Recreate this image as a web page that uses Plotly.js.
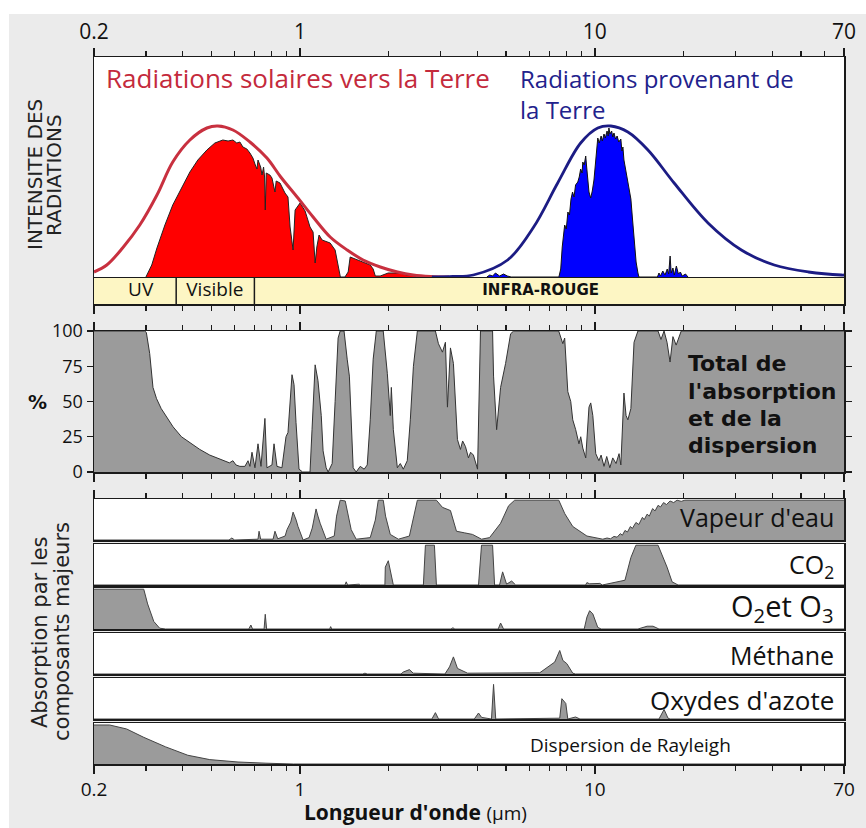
<!DOCTYPE html>
<html><head><meta charset="utf-8">
<script src="https://cdn.plot.ly/plotly-3.0.1.min.js"></script>
<style>html,body{margin:0;padding:0;background:#fff}</style>
</head><body><div id="chart" style="width:866px;height:828px"></div>
<script>
// ---------- DATA ----------
const majorTicks = [0.2, 1, 10, 70];
const majorLabels = ['0.2', '1', '10', '70'];
const minorTicks = [0.3,0.4,0.5,0.6,0.7,0.8,0.9,2,3,4,5,6,7,8,9,20,30,40,50,60];

// Panel 1 : intensity (arbitrary units)
const solarEnvLam = [0.2,0.221,0.25,0.286,0.327,0.37,0.423,0.483,0.526,0.592,0.676,0.772,0.86,0.977,1.107,1.265,1.445,1.637,1.871,2.14,2.42,2.77,3.2];
const solarEnvVal = [5,12,29,52,82,115,137,149,151,147,135,119,100,80,60,40,27,17,10,5,2,0.5,0];

const solarSurfLam = [0.300,0.304,0.314,0.327,0.348,0.37,0.397,0.423,0.45,0.483,0.514,0.547,0.57,0.592,0.61,0.625,0.64,0.66,0.676,0.692,0.703,0.714,0.72,0.735,0.743,0.752,0.758,0.762,0.768,0.79,0.803,0.815,0.822,0.83,0.855,0.889,0.91,0.925,0.947,0.962,1.0,1.04,1.081,1.107,1.125,1.14,1.16,1.188,1.265,1.315,1.346,1.37,1.42,1.456,1.479,1.6,1.73,1.77,1.80,1.87,1.95,1.99,2.19,2.3,2.42,2.5,2.77];
const solarSurfVal = [0,4,12,29,52,72,90,105,117,127,134,137,136,137,134,135,130,128,124,119,113,108,117,110,102,110,100,67,104,102,99,90,85,96,94,84,80,50,27,67,74,66,50,45,14,30,42,37,34,27,10,0,0,5,20,16,12,8,1,1,3,4,4,2,2,0,0];

const earthEnvLam = [2.8,3.3,3.87,5.06,6.2,7.48,8.95,10.23,11.33,12.94,15.14,18.57,24.2,31.4,40.6,53,68.7,70];
const earthEnvVal = [0,0.5,2,17,50,94,134,149,151,145,127,94,54,27,12,5,2,2];

const earthSurfLam = [4.3,4.4,4.5,4.6,4.75,4.9,5.05,5.2,7.55,7.66,7.75,7.9,8.0,8.1,8.2,8.3,8.4,8.5,8.6,8.75,8.85,8.95,9.05,9.1,9.2,9.31,9.38,9.46,9.55,9.68,9.8,9.93,10.05,10.15,10.23,10.35,10.5,10.6,10.74,10.85,11.0,11.1,11.16,11.25,11.4,11.5,11.61,11.75,11.9,12.05,12.25,12.35,12.45,12.55,12.7,12.94,13.1,13.25,13.4,13.58,13.8,14.0,14.11,16.3,16.5,16.7,17.0,17.3,17.6,17.8,18.0,18.15,18.4,18.6,18.9,19.2,19.5,19.8,20.3,20.7];
const earthSurfVal = [0,2,1,4,1,3,1,0,0,8,30,52,48,65,62,78,85,80,92,95,100,108,104,115,112,121,110,94,85,79,86,97,118,132,139,134,141,136,143,139,146,141,149,143,146,140,144,138,141,135,138,126,130,117,108,95,88,78,60,36,15,4,0,0,4,1,6,2,8,3,21,4,9,2,11,3,5,1,3,0];

// Spectral bands
const bandLimits = [0.38, 0.7];
const bandNames = ['UV', 'Visible', 'INFRA-ROUGE'];
const bandCentres = [0.288, 0.514, 6.55];

// Panel 2 : total absorption and scattering (%)
const totalLam = [0.2,0.297,0.301,0.309,0.317,0.326,0.338,0.352,0.371,0.396,0.423,0.457,0.494,0.534,0.576,0.592,0.606,0.625,0.65,0.666,0.676,0.687,0.703,0.72,0.737,0.76,0.772,0.803,0.816,0.835,0.868,0.896,0.91,0.939,0.954,0.969,0.992,1.02,1.081,1.098,1.125,1.15,1.18,1.197,1.226,1.245,1.285,1.315,1.346,1.368,1.41,1.445,1.47,1.514,1.55,1.6,1.65,1.69,1.73,1.77,1.814,1.915,1.977,2.023,2.04,2.072,2.138,2.188,2.24,2.31,2.366,2.424,2.5,2.878,2.947,3.041,3.112,3.162,3.237,3.313,3.419,3.5,3.56,3.64,3.726,3.79,3.873,4.0,4.093,4.498,4.533,4.643,4.789,4.979,5.179,5.303,7.54,7.786,7.9,8.095,8.283,8.414,8.61,8.831,8.954,9.099,9.311,9.55,9.683,9.842,10.07,10.32,10.5,10.74,10.97,11.24,11.5,11.8,12.08,12.25,12.45,12.55,12.76,12.94,13.25,13.58,14.0,16.38,16.76,17.17,17.57,17.99,18.4,18.87,19.63,70];
const totalPct = [100,100,99,84,60,52,45,39,32,25,21,16,12,9,6.5,8,5,4,4,8,4,14,3,20,4,38,3,5,20,4,3,25,28,69,62,35,2,0,0,30,76,65,40,15,3,0,6,50,95,100,100,80,68,3,0,4,2,5,37,80,100,100,70,40,60,30,3,6,2,8,37,75,100,100,91,85,92,46,88,77,23,16,22,18,10,14,12,2,100,100,68,30,60,77,98,100,100,91,95,57,50,37,30,20,25,17,10,46,49,40,13,8,12,4,11,3,10,6,13,5,37,56,40,37,45,92,100,100,94,100,92,78,96,90,100,100];

// Panel 3 : absorption by major components (relative)
const waterLam = [0.2,0.574,0.587,0.6,0.72,0.726,0.735,0.81,0.822,0.84,0.89,0.903,0.93,0.947,0.97,0.984,1.024,1.073,1.1,1.133,1.15,1.17,1.226,1.306,1.33,1.368,1.423,1.46,1.491,1.55,1.73,1.80,1.842,1.915,1.95,2.023,2.155,2.349,2.45,2.5,2.901,3.041,3.237,3.393,3.612,3.846,4.126,4.393,4.789,5.098,5.345,7.543,7.907,8.414,9.397,10.64,11.0,11.3,11.61,11.9,12.2,12.4,12.65,12.9,13.2,13.4,13.78,14.1,14.5,14.7,15.04,15.3,15.7,16.0,16.38,16.7,17.1,17.5,17.99,18.5,19.0,19.63,20.2,70];
const waterVal = [0,0,0.05,0,0.02,0.22,0.02,0.02,0.22,0.03,0.1,0.26,0.45,0.70,0.5,0.34,0,0.06,0.3,0.78,0.6,0.42,0.02,0.1,0.6,1.0,0.98,0.6,0.26,0.02,0.06,0.5,1.0,1.0,0.6,0.14,0.02,0.1,0.7,1.0,1.0,0.82,0.74,0.22,0.18,0.14,0.02,0.06,0.42,0.86,1.0,1.0,0.66,0.34,0.1,0.02,0.05,0.03,0.09,0.07,0.16,0.12,0.24,0.2,0.34,0.29,0.44,0.39,0.57,0.51,0.65,0.6,0.79,0.73,0.87,0.83,0.94,0.89,0.98,0.94,1.0,0.97,1.0,1.0];

const co2Lam = [0.2,1.42,1.434,1.45,1.587,1.6,1.94,1.946,1.992,2.04,2.072,2.62,2.662,2.856,2.901,4.03,4.126,4.498,4.569,4.75,4.865,5.019,5.221,5.387,9.3,9.397,9.6,10.4,10.6,12.65,13.25,13.78,16.38,17.57,18.28,19.15,70];
const co2Val = [0,0,0.08,0,0.02,0,0,0.45,0.61,0.28,0,0,1.0,1.0,0,0,1.0,1.0,0,0,0.33,0.02,0.1,0,0,0.06,0.03,0.04,0,0.12,0.69,1.0,1.0,0.45,0.08,0,0];

const ozoneLam = [0.2,0.295,0.304,0.319,0.334,0.35,0.67,0.681,0.69,0.755,0.762,0.77,1.26,1.27,1.28,3.25,3.3,3.35,4.7,4.789,4.9,9.2,9.4,9.6,9.84,10.23,10.5,14.0,15.04,15.75,16.5,70];
const ozoneVal = [1.0,1.0,0.63,0.19,0.02,0,0,0.1,0,0,0.37,0,0,0.06,0,0,0.03,0,0,0.15,0,0,0.3,0.46,0.38,0.04,0,0,0.07,0.07,0,0];

const methaneLam = [0.2,1.63,1.66,1.69,2.2,2.24,2.35,2.42,3.1,3.214,3.313,3.42,3.7,6.5,7.31,7.6,7.79,8.035,8.414,8.6,70];
const methaneVal = [0,0,0.02,0,0,0.05,0.11,0.02,0,0.18,0.43,0.14,0.02,0.03,0.3,0.59,0.34,0.26,0.02,0,0];

const nitrousLam = [0.2,2.8,2.878,2.95,3.9,4.03,4.13,4.4,4.46,4.533,4.61,7.6,7.727,7.97,8.095,8.6,8.9,16.5,16.76,17.17,17.71,18,70];
const nitrousVal = [0,0,0.16,0,0,0.15,0.04,0,0,0.87,0,0.02,0.51,0.39,0,0.05,0,0,0.1,0.24,0.02,0,0];

const rayleighLam = [0.2,0.226,0.258,0.295,0.35,0.416,0.494,0.616,0.766,0.95,70];
const rayleighVal = [0.98,0.98,0.88,0.67,0.43,0.22,0.11,0.05,0.02,0,0];

const componentNames = ["Vapeur d'eau", "CO<sub>2</sub>", "O<sub>2</sub>et O<sub>3</sub>", "Méthane", "Oxydes d'azote", "Dispersion de Rayleigh"];

// ---------- LAYOUT HELPERS ----------
const W = 866, H = 828;
const X0 = 94 / W, X1 = 844 / W;
const dom = (top, bottom) => [1 - bottom / H, 1 - top / H];
const px = v => v / W, py = v => 1 - v / H;
const xr = [Math.log10(0.2), Math.log10(70)];
const LINE = '#1a1a1a';
const SANS = 'Open Sans, DejaVu Sans, sans-serif';
const VERD = 'DejaVu Sans, Verdana, sans-serif';

function xAxis(anchor, opts) {
  return Object.assign({
    anchor: anchor, domain: [X0, X1], type: 'log', range: xr,
    showline: true, linecolor: LINE, linewidth: 1.5, mirror: true,
    showgrid: false, zeroline: false,
    tickmode: 'array', tickvals: majorTicks, ticktext: majorLabels,
    ticks: '', showticklabels: false, fixedrange: true
  }, opts || {});
}
function tickOpts(side, labels, mirror, fsize) {
  return {
    side: side, ticks: 'outside', ticklen: 8, tickwidth: 1.3, tickcolor: LINE,
    showticklabels: labels, mirror: mirror || true,
    tickfont: {family: SANS, size: fsize || 21, color: '#111'},
    minor: {tickmode: 'array', tickvals: minorTicks, ticks: 'outside', ticklen: 5, tickwidth: 1.3, tickcolor: LINE}
  };
}
function yAxis(anchor, domain, range, opts) {
  return Object.assign({
    anchor: anchor, domain: domain, range: range,
    showline: true, linecolor: LINE, linewidth: 1.5, mirror: true,
    showgrid: false, zeroline: false, ticks: '', showticklabels: false, fixedrange: true
  }, opts || {});
}

// ---------- TRACES ----------
const traces = [];
const GREY = '#9b9b9b';
traces.push({x: solarSurfLam, y: solarSurfVal, type: 'scatter', mode: 'lines', fill: 'tozeroy',
  fillcolor: '#ff0000', line: {color: '#222', width: 1}, xaxis: 'x', yaxis: 'y', hoverinfo: 'skip'});
traces.push({x: earthSurfLam, y: earthSurfVal, type: 'scatter', mode: 'lines', fill: 'tozeroy',
  fillcolor: '#0000ff', line: {color: '#111', width: 1}, xaxis: 'x', yaxis: 'y', hoverinfo: 'skip'});
traces.push({x: solarEnvLam, y: solarEnvVal, type: 'scatter', mode: 'lines',
  line: {color: '#c8303f', width: 3, shape: 'spline'}, xaxis: 'x', yaxis: 'y', hoverinfo: 'skip'});
traces.push({x: earthEnvLam, y: earthEnvVal, type: 'scatter', mode: 'lines',
  line: {color: '#1c1c84', width: 2.8, shape: 'spline'}, xaxis: 'x', yaxis: 'y', hoverinfo: 'skip'});

// band
traces.push({x: [0.2, 70, 70, 0.2, 0.2], y: [0, 0, 1, 1, 0], type: 'scatter', mode: 'lines', fill: 'toself',
  fillcolor: '#fdf6c4', line: {width: 0}, xaxis: 'x2', yaxis: 'y2', hoverinfo: 'skip'});
traces.push({x: [bandLimits[0], bandLimits[0], null, bandLimits[1], bandLimits[1]], y: [0, 1, null, 0, 1],
  type: 'scatter', mode: 'lines', line: {color: LINE, width: 1.5}, xaxis: 'x2', yaxis: 'y2', hoverinfo: 'skip'});
traces.push({x: bandCentres, y: [0.5, 0.5, 0.5], type: 'scatter', mode: 'text',
  text: [bandNames[0], bandNames[1], '<b>' + bandNames[2] + '</b>'],
  textfont: {family: [SANS, SANS, VERD], size: [19, 19, 15], color: '#111'},
  xaxis: 'x2', yaxis: 'y2', hoverinfo: 'skip'});

// panel 2
traces.push({x: totalLam, y: totalPct, type: 'scatter', mode: 'lines', fill: 'tozeroy',
  fillcolor: GREY, line: {color: '#333', width: 1}, xaxis: 'x3', yaxis: 'y3', hoverinfo: 'skip'});

// components
const comps = [[waterLam, waterVal], [co2Lam, co2Val], [ozoneLam, ozoneVal], [methaneLam, methaneVal], [nitrousLam, nitrousVal], [rayleighLam, rayleighVal]];
comps.forEach((c, i) => {
  traces.push({x: c[0], y: c[1], type: 'scatter', mode: 'lines', fill: 'tozeroy',
    fillcolor: GREY, line: {color: '#444', width: 1}, xaxis: 'x' + (i + 4), yaxis: 'y' + (i + 4), hoverinfo: 'skip'});
});

// ---------- LAYOUT ----------
const ann = (text, x, y, opts) => Object.assign({text: text, xref: 'paper', yref: 'paper', x: px(x), y: py(y),
  showarrow: false, xanchor: 'center', yanchor: 'middle'}, opts || {});

const layout = {
  width: W, height: H, margin: {l: 0, r: 0, t: 0, b: 0},
  paper_bgcolor: '#ebebeb', plot_bgcolor: '#ffffff', showlegend: false,
  font: {family: SANS, color: '#111'},
  xaxis: xAxis('y', tickOpts('top', true)),
  yaxis: yAxis('x', dom(57, 278), [-1, 220]),
  xaxis2: xAxis('y2', tickOpts('bottom', false)),
  yaxis2: yAxis('x2', dom(278, 304), [0, 1]),
  xaxis3: xAxis('y3', tickOpts('bottom', false, 'ticks')),
  yaxis3: yAxis('x3', dom(331, 472), [0, 100], {
    tickmode: 'array', tickvals: [0, 25, 50, 75, 100], ticks: 'outside', ticklen: 6, tickwidth: 1.3,
    tickcolor: LINE, showticklabels: true, mirror: 'ticks',
    tickfont: {family: SANS, size: 18, color: '#111'}}),
  shapes: [
    {type: 'rect', xref: 'paper', yref: 'paper', x0: 0, x1: px(9), y0: 0, y1: 1, fillcolor: '#ffffff', line: {width: 0}, layer: 'below'},
    {type: 'rect', xref: 'paper', yref: 'paper', x0: 0, x1: 1, y0: py(14), y1: 1, fillcolor: '#ffffff', line: {width: 0}, layer: 'below'}
  ],
  annotations: [
    ann('Radiations solaires vers la Terre', 104, 78, {xanchor: 'left', font: {family: SANS, size: 26, color: '#c42a3c'}}),
    ann('Radiations provenant de<br>la Terre', 518, 60, {xanchor: 'left', yanchor: 'top', align: 'left',
      font: {family: SANS, size: 24, color: '#22228c'}}),
    ann('INTENSITE DES', 35, 175, {textangle: -90, font: {family: VERD, size: 20, color: '#222'}}),
    ann('RADIATIONS', 54, 175, {textangle: -90, font: {family: VERD, size: 20, color: '#222'}}),
    ann('<b>%</b>', 37, 402, {font: {family: VERD, size: 19, color: '#111'}}),
    ann('Absorption par les', 40, 632, {textangle: -90, font: {family: VERD, size: 21, color: '#222'}}),
    ann('composants majeurs', 62, 632, {textangle: -90, font: {family: VERD, size: 21, color: '#222'}}),
    ann('<b>Longueur d\'onde</b> <span style="font-size:19px">(µm)</span>', 415, 812, {font: {family: SANS, size: 21, color: '#111'}})
  ]
};

['Total de', "l'absorption", 'et de la', 'dispersion'].forEach((t, i) => {
  layout.annotations.push(ann('<b>' + t + '</b>', 686, 364 + i * 27, {xanchor: 'left',
    font: {family: VERD, size: 22, color: '#111'}}));
});

const subTops = [499, 544, 588, 633, 678, 723];
const labelY = [517, 565, 607, 655, 700, 745];
const labelSize = [25, 25, 29, 25, 26, 19];
subTops.forEach((t, i) => {
  const n = i + 4;
  let xo;
  if (i === 0) xo = tickOpts('top', false);
  else if (i === 5) xo = tickOpts('bottom', true, true, 19);
  else xo = {};
  layout['xaxis' + n] = xAxis('y' + n, xo);
  layout['yaxis' + n] = yAxis('x' + n, dom(t, t + 41), [0, 1.03]);
  const isRay = i === 5;
  layout.annotations.push(ann(componentNames[i], isRay ? 630 : 836, labelY[i], {xanchor: isRay ? 'center' : 'right',
    font: {family: SANS, size: labelSize[i], color: '#111'}}));
});

Plotly.newPlot('chart', traces, layout, {staticPlot: true});
</script></body></html>
